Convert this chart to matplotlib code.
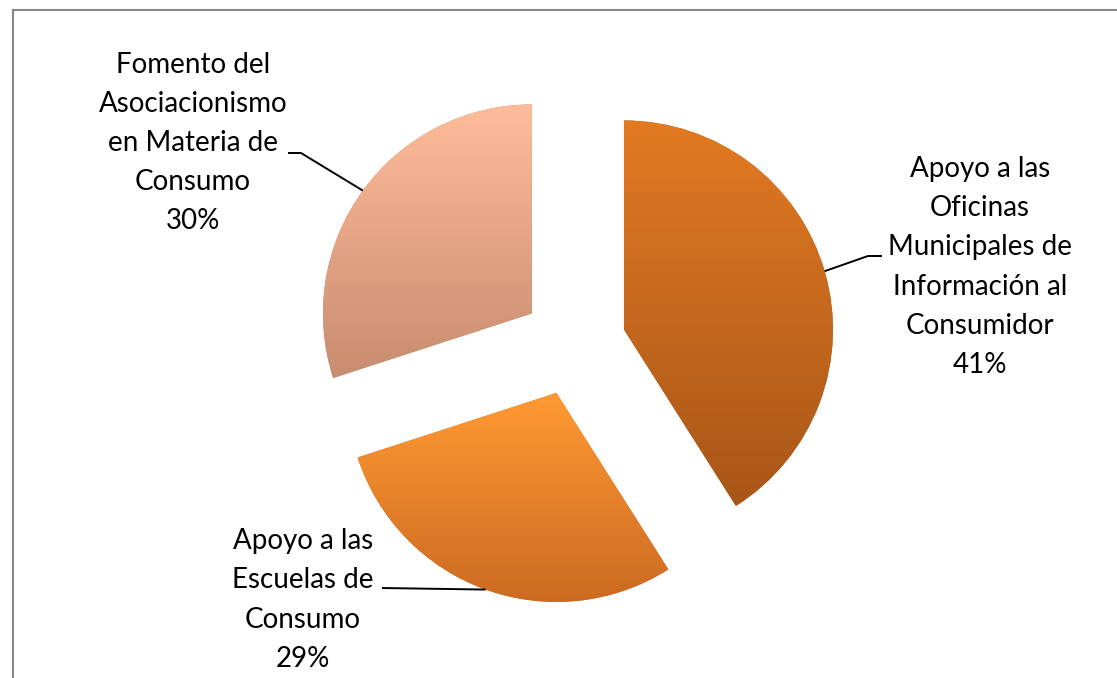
import matplotlib
matplotlib.use("Agg")
import matplotlib.pyplot as plt
import numpy as np
from matplotlib.colors import LinearSegmentedColormap

# data
categories = [
    "Apoyo a las\nOficinas\nMunicipales de\nInformación al\nConsumidor",
    "Apoyo a las\nEscuelas de\nConsumo",
    "Fomento del\nAsociacionismo\nen Materia de\nConsumo",
]
values = [41, 29, 30]

# gradient colours per slice (top, bottom)
top_colors = ["#E27A22", "#FF9A33", "#FFBC9A"]
bottom_colors = ["#A85618", "#CC6A22", "#C88C70"]

W, H = 1117, 678

fig = plt.figure(figsize=(W / 100, H / 100), dpi=100)
ax = fig.add_axes([0, 0, 1, 1])

wedges, _ = ax.pie(
    values,
    startangle=90,
    counterclock=False,
    radius=209,
    center=(574, H - 344),
    explode=[52, 52, 52],
    frame=True,
    colors=bottom_colors,
    wedgeprops=dict(linewidth=0),
)

# vertical gradient fill clipped to each wedge
grad = np.linspace(0, 1, 256).reshape(-1, 1)
for w, c_top, c_bot in zip(wedges, top_colors, bottom_colors):
    ext = w.get_path().get_extents()
    cmap = LinearSegmentedColormap.from_list("g", [c_bot, c_top])
    im = ax.imshow(grad, cmap=cmap, origin="lower", aspect="auto",
                   interpolation="bilinear",
                   extent=(ext.x0, ext.x1, ext.y0, ext.y1), zorder=2)
    im.set_clip_path(w)

# labels: (x, y in image pixels of block centre), elbow point and line end
label_pos = [(980, 267), (303, 600), (193, 143)]
elbow_pts = [(868, 256), (382, 588), (301, 153)]
end_pts = [(882, 256), (382, 588), (288, 153)]

for w, cat, val, (lx, ly), (ex, ey), (tx, ty) in zip(
        wedges, categories, values, label_pos, elbow_pts, end_pts):
    ax.text(lx, H - ly, f"{cat}\n{val}%", ha="center", va="center",
            fontsize=20, family=["Lato", "DejaVu Sans"], linespacing=1.62,
            color="black", zorder=5)
    mid = np.deg2rad((w.theta1 + w.theta2) / 2)
    ax_ = w.center[0] + w.r * np.cos(mid)
    ay_ = w.center[1] + w.r * np.sin(mid)
    ax.plot([ax_, ex, tx], [ay_, H - ey, H - ty], color="black", lw=1.4,
            zorder=4, solid_capstyle="butt")

# chart area border (top and left visible)
ax.plot([12.5, W], [H - 9.5, H - 9.5], color="#888888", lw=1.5, zorder=6)
ax.plot([12.5, 12.5], [H - 9.5, 0], color="#888888", lw=1.5, zorder=6)

ax.set_xlim(0, W)
ax.set_ylim(0, H)
ax.axis("off")

fig.savefig("out.png", dpi=100)
